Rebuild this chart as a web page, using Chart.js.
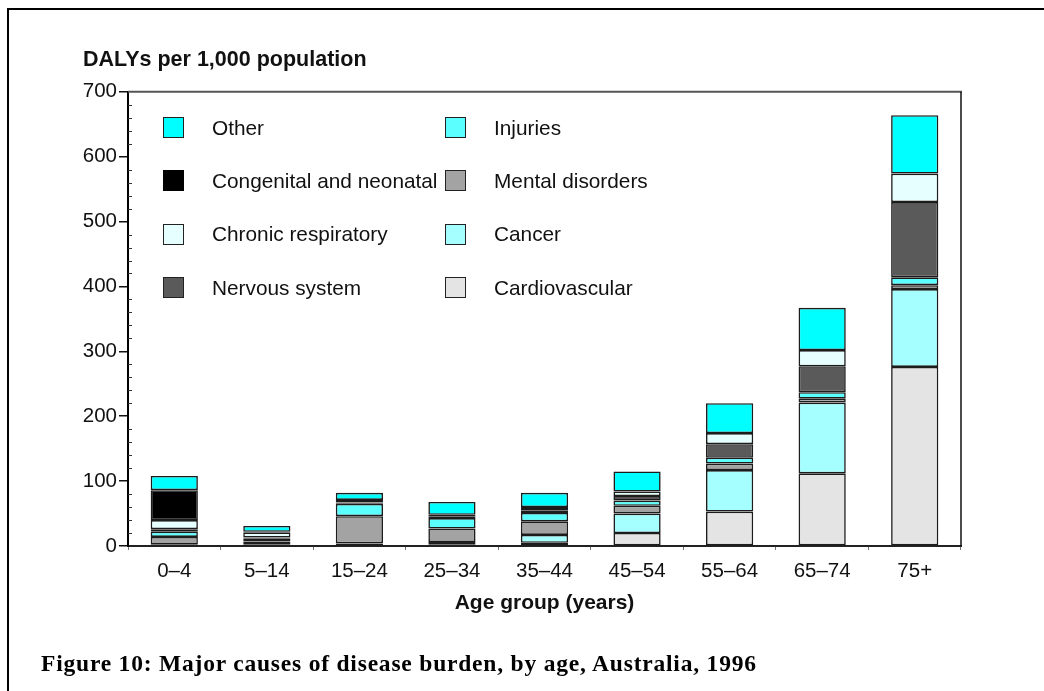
<!DOCTYPE html>
<html><head><meta charset="utf-8">
<script src="https://cdn.jsdelivr.net/npm/chart.js@4.4.1/dist/chart.umd.min.js"></script>
<style>
html,body{margin:0;padding:0;background:#fff;width:1044px;height:691px;overflow:hidden;}
#wrap{position:relative;width:1044px;height:691px;overflow:hidden;}
#frame{position:absolute;left:7px;top:8px;width:1100px;height:800px;border-top:2px solid #000;border-left:2px solid #000;}
canvas{position:absolute;left:0;top:0;}
#legend{position:absolute;left:163px;top:101px;display:grid;grid-auto-flow:column;grid-template-rows:repeat(4,53.3px);grid-template-columns:282px 260px;font:20.8px 'Liberation Sans',Arial,sans-serif;color:#111;}
.item{display:flex;align-items:center;white-space:nowrap;}
.sw{width:19px;height:19px;border:1.5px solid #222;margin-right:28px;box-sizing:content-box;flex:none;}
#caption{position:absolute;left:41px;top:650px;font:bold 23.5px 'Liberation Serif','Times New Roman',serif;letter-spacing:0.8px;color:#000;white-space:nowrap;}
</style></head>
<body>
<div id="wrap">
<div id="frame"></div>
<canvas id="c" width="1044" height="691"></canvas>
<div id="legend"></div>
<div id="caption">Figure 10: Major causes of disease burden, by age, Australia, 1996</div>
</div>
<script>
// ---- data ----
const categories = ['0–4','5–14','15–24','25–34','35–44','45–54','55–64','65–74','75+'];
const cardiovascular     = [0, 1, 1, 2, 5, 20, 53, 112, 276];
const cancer             = [2, 1, 3, 4, 12, 30, 64, 109, 120];
const mentalDisorders    = [12, 5, 42, 21, 21, 12, 10, 6, 6];
const injuries           = [8, 4, 19, 16, 13, 8, 9, 10, 12];
const nervousSystem      = [4, 2, 2, 2, 4, 7, 21, 40, 116];
const chronicRespiratory = [14, 8, 4, 3, 5, 7, 17, 25, 44];
const congenitalNeonatal = [46, 1, 0, 0, 0, 0, 0, 0, 0];
const other              = [22, 9, 11, 20, 22, 31, 46, 65, 90];
const yTickValues = [0, 100, 200, 300, 400, 500, 600, 700];
const yMinorStep = 20;

const FAM = "'Liberation Sans', Arial, sans-serif";

const series = [
  {label:'Cardiovascular', data:cardiovascular, color:'#E4E4E4'},
  {label:'Cancer', data:cancer, color:'#A5FFFF'},
  {label:'Mental disorders', data:mentalDisorders, color:'#A3A3A3'},
  {label:'Injuries', data:injuries, color:'#5CFFFF'},
  {label:'Nervous system', data:nervousSystem, color:'#5A5A5A'},
  {label:'Chronic respiratory', data:chronicRespiratory, color:'#E6FFFF'},
  {label:'Congenital and neonatal', data:congenitalNeonatal, color:'#000000'},
  {label:'Other', data:other, color:'#00FFFF'}
];

const framePlugin = {
  id:'frame',
  afterDraw(chart){
    const {ctx, chartArea:a, scales:{y}} = chart;
    ctx.save();
    ctx.strokeStyle = '#333'; ctx.lineWidth = 1;
    for (let v = y.min + yMinorStep; v < y.max; v += yMinorStep) {
      if (yTickValues.includes(v)) continue;
      const py = Math.round(y.getPixelForValue(v)) + 0.5;
      ctx.beginPath(); ctx.moveTo(a.left, py); ctx.lineTo(a.left + 4, py); ctx.stroke();
    }
    ctx.strokeStyle = '#555'; ctx.lineWidth = 2;
    ctx.beginPath(); ctx.moveTo(a.left, a.top); ctx.lineTo(a.right + 1, a.top); ctx.stroke();
    ctx.strokeStyle = '#111'; ctx.lineWidth = 1.5;
    ctx.beginPath(); ctx.moveTo(a.right, a.top); ctx.lineTo(a.right, a.bottom); ctx.stroke();
    ctx.restore();
  }
};

const chart = new Chart(document.getElementById('c'), {
  type:'bar',
  data:{
    labels:categories,
    datasets:series.map(s => ({
      label:s.label, data:s.data, backgroundColor:s.color,
      borderColor:'#1c1c1c', borderWidth:1.6, borderSkipped:false,
      categoryPercentage:1, barPercentage:0.51
    }))
  },
  options:{
    responsive:false, animation:false, devicePixelRatio:1,
    layout:{padding:{left:83, right:83, top:0, bottom:75}},
    plugins:{
      legend:{display:false}, tooltip:{enabled:false},
      title:{display:true, text:'DALYs per 1,000 population', align:'start', color:'#111',
        font:{family:FAM, size:21.5, weight:'bold'}, padding:{top:47, bottom:19}}
    },
    scales:{
      x:{
        stacked:true, offset:true,
        grid:{offset:true, drawOnChartArea:false, drawTicks:true, tickLength:4, color:'#777', lineWidth:1},
        border:{display:true, color:'#222', width:2},
        ticks:{color:'#111', font:{family:FAM, size:20.5}, padding:9, maxRotation:0, autoSkip:false},
        title:{display:true, text:'Age group (years)', color:'#111', font:{family:FAM, size:21, weight:'bold'}, padding:{top:8, bottom:0}},
        afterFit(s){ s.height = 70; }
      },
      y:{
        stacked:true, min:0, max:700,
        afterBuildTicks(s){ s.ticks = yTickValues.map(v => ({value:v})); },
        grid:{drawOnChartArea:false, tickLength:9, color:'#111', lineWidth:1.5},
        border:{display:true, color:'#000', width:2},
        ticks:{color:'#111', font:{family:FAM, size:20.5}, padding:2},
        afterFit(s){ s.width = 45; }
      }
    }
  },
  plugins:[framePlugin]
});

// legend (column-major, top of stack first)
const legendEl = document.getElementById('legend');
chart.data.datasets.slice().reverse().forEach(ds => {
  const item = document.createElement('div');
  item.className = 'item';
  const sw = document.createElement('span');
  sw.className = 'sw';
  sw.style.background = ds.backgroundColor;
  if (ds.backgroundColor === '#000000') sw.style.borderColor = '#000';
  const tx = document.createElement('span');
  tx.textContent = ds.label;
  item.appendChild(sw); item.appendChild(tx);
  legendEl.appendChild(item);
});
</script>
</body></html>
